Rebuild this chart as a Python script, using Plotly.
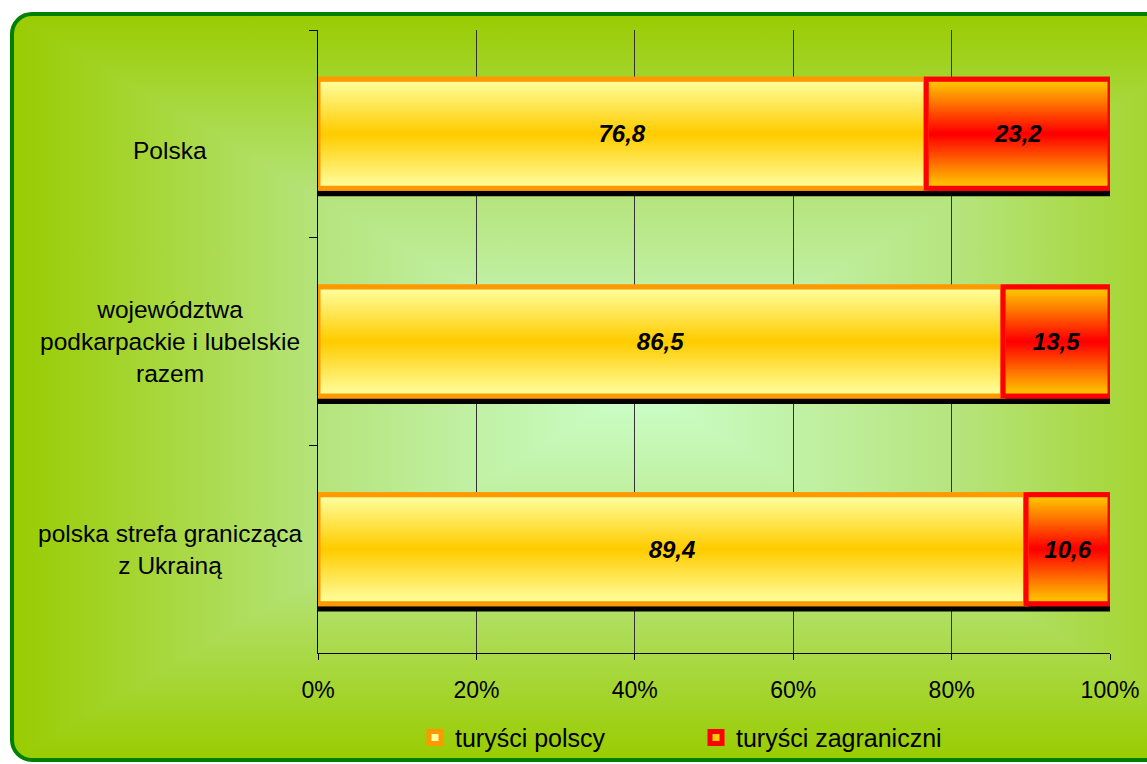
import base64
import plotly.graph_objects as go

# ---------------- data ----------------
categories = [
    "Polska",
    "województwa<br>podkarpackie i lubelskie<br>razem",
    "polska strefa granicząca<br>z Ukrainą",
]
polish = [76.8, 86.5, 89.4]
foreign = [23.2, 13.5, 10.6]
series_names = ["turyści polscy", "turyści zagraniczni"]
x_ticks = [0, 20, 40, 60, 80, 100]
x_ticklabels = ["0%", "20%", "40%", "60%", "80%", "100%"]

# ---------------- style ----------------
W, H = 1147, 764
ML, MR, MT, MB = 318, 37, 30, 111
PW, PH = W - ML - MR, H - MT - MB
FONT = "Liberation Sans, Arial, sans-serif"
BAR_W = 0.525
N_LAYERS = 30
LABEL_YSHIFT = [-17, 0, 0]
BORDER = 5


def lerp(c1, c2, t):
    return "rgb({},{},{})".format(*[round(a + (b - a) * t) for a, b in zip(c1, c2)])


def fmt(v):
    return f"{v:.1f}".replace(".", ",")


fig = go.Figure()

totals = [p + f for p, f in zip(polish, foreign)]

# shadow
fig.add_trace(go.Bar(
    y=categories, x=totals, base=0.32, orientation="h",
    width=BAR_W, offset=-BAR_W / 2 + 0.026,
    marker=dict(color="black", line=dict(color="black", width=BORDER)),
    showlegend=False, hoverinfo="skip", cliponaxis=False,
))

series = [
    dict(x=polish, base=[0, 0, 0], edge=(255, 255, 160), center=(255, 204, 0),
         line="#FF9900", name=series_names[0]),
    dict(x=foreign, base=polish, edge=(255, 204, 0), center=(255, 0, 0),
         line="#FF0000", name=series_names[1]),
]

for s in series:
    for k in range(N_LAYERS):
        wk = BAR_W * (1 - k / N_LAYERS)
        t = k / (N_LAYERS - 1)
        fig.add_trace(go.Bar(
            y=categories, x=s["x"], base=s["base"], orientation="h",
            width=wk, offset=-wk / 2,
            marker=dict(color=lerp(s["edge"], s["center"], t),
                        line=dict(color=s["line"], width=BORDER if k == 0 else 0)),
            name=s["name"], showlegend=(k == 0), legendgroup=s["name"],
            hoverinfo="skip", cliponaxis=False,
        ))

# borders + labels
for s in series:
    fig.add_trace(go.Bar(
        y=categories, x=s["x"], base=s["base"], orientation="h",
        width=BAR_W, offset=-BAR_W / 2,
        marker=dict(color="rgba(0,0,0,0)", line=dict(color=s["line"], width=BORDER)),
        text=[fmt(v) for v in s["x"]], textposition="inside",
        insidetextanchor="middle", textangle=0, constraintext="none",
        textfont=dict(family=FONT, size=24, color="black", weight="bold", style="italic"),
        showlegend=False, hoverinfo="skip", cliponaxis=False, legendgroup=s["name"],
    ))

# category labels
for c, ys in zip(categories, LABEL_YSHIFT):
    fig.add_annotation(
        x=(170 - ML) / PW, xref="paper", y=c, yref="y", yshift=ys,
        text=c, showarrow=False, xanchor="center", yanchor="middle",
        align="center", font=dict(family=FONT, size=24.5, color="black"),
    )

# background svg (rectangular "from centre" gradient, rounded frame)
x0, y0, x1, y1 = 12, 14, 1268, 760
cx, cy = (x0 + x1) / 2, (y0 + y1) / 2
stops = '<stop offset="0" stop-color="#99CC00"/><stop offset="0.5" stop-color="#B6E47E"/><stop offset="1" stop-color="#CCFFCC"/>'
svg = f'''<svg xmlns="http://www.w3.org/2000/svg" width="{W}" height="{H}" viewBox="0 0 {W} {H}">
<defs>
<linearGradient id="gt" gradientUnits="userSpaceOnUse" x1="0" y1="{y0}" x2="0" y2="{cy}">{stops}</linearGradient>
<linearGradient id="gb" gradientUnits="userSpaceOnUse" x1="0" y1="{y1}" x2="0" y2="{cy}">{stops}</linearGradient>
<linearGradient id="gl" gradientUnits="userSpaceOnUse" x1="{x0}" y1="0" x2="{cx}" y2="0">{stops}</linearGradient>
<linearGradient id="gr" gradientUnits="userSpaceOnUse" x1="{x1}" y1="0" x2="{cx}" y2="0">{stops}</linearGradient>
<clipPath id="cp"><rect x="{x0}" y="{y0}" width="{x1 - x0}" height="{y1 - y0}" rx="20" ry="20"/></clipPath>
</defs>
<rect x="0" y="0" width="{W}" height="{H}" fill="white"/>
<g clip-path="url(#cp)" shape-rendering="crispEdges">
<rect x="{x0}" y="{y0}" width="{x1 - x0}" height="{y1 - y0}" fill="#B6E47E"/>
<polygon points="{x0},{y0} {x1},{y0} {cx},{cy}" fill="url(#gt)"/>
<polygon points="{x0},{y1} {x1},{y1} {cx},{cy}" fill="url(#gb)"/>
<polygon points="{x0},{y0} {x0},{y1} {cx},{cy}" fill="url(#gl)"/>
<polygon points="{x1},{y0} {x1},{y1} {cx},{cy}" fill="url(#gr)"/>
</g>
<rect x="{x0}" y="{y0}" width="{x1 - x0}" height="{y1 - y0}" rx="20" ry="20" fill="none" stroke="#008000" stroke-width="4"/>
</svg>'''
src = "data:image/svg+xml;base64," + base64.b64encode(svg.encode()).decode()

fig.update_layout(
    width=W, height=H,
    margin=dict(l=ML, r=MR, t=MT, b=MB, pad=0, autoexpand=False),
    barmode="overlay",
    paper_bgcolor="white",
    plot_bgcolor="rgba(0,0,0,0)",
    font=dict(family=FONT, size=23, color="black"),
    images=[dict(source=src, xref="paper", yref="paper",
                 x=-ML / PW, y=1 + MT / PH, sizex=W / PW, sizey=H / PH,
                 xanchor="left", yanchor="top", sizing="stretch", layer="below")],
    xaxis=dict(range=[0, 100], tickvals=x_ticks, ticktext=x_ticklabels,
               showgrid=True, gridcolor="#333333", gridwidth=1,
               showline=True, linecolor="black", linewidth=1,
               ticks="outside", ticklen=6, tickcolor="black",
               zeroline=False, layer="below traces", ticklabelstandoff=10,
               automargin=False,
               tickfont=dict(family=FONT, size=23, color="black")),
    yaxis=dict(type="category", categoryorder="array", categoryarray=categories,
               range=[2.5, -0.5], showticklabels=False, automargin=False,
               showline=True, linecolor="black", linewidth=1,
               ticks="outside", ticklen=8, tickcolor="black", tickson="boundaries",
               showgrid=False, zeroline=False, layer="below traces"),
    legend=dict(orientation="h", x=(415 - ML) / PW, xanchor="left", y=-0.136, yanchor="middle",
                bgcolor="rgba(0,0,0,0)", font=dict(family=FONT, size=25, color="black"),
                entrywidth=236, traceorder="normal"),
)

fig.write_html(
    "out.html",
    config={"displayModeBar": False},
    post_script=(
        "document.body.style.margin='0';"
        "document.body.style.overflow='hidden';"
        "document.documentElement.style.overflow='hidden';"
    ),
)
